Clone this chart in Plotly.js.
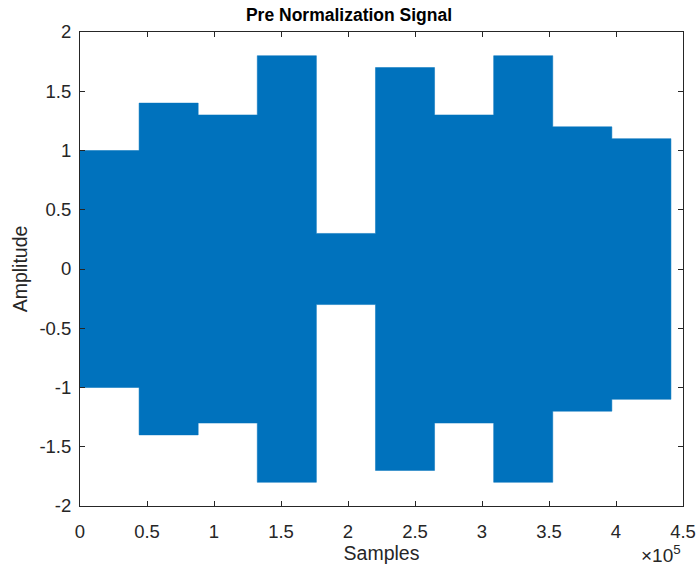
<!DOCTYPE html>
<html>
<head>
<meta charset="utf-8">
<script src="https://cdn.plot.ly/plotly-3.0.1.min.js"></script>
<style>html,body{margin:0;padding:0;background:#fff;}#chart{width:698px;height:569px;}</style>
</head>
<body>
<div id="chart"></div>
<script>
// Segment boundaries (samples) and peak amplitudes of each segment
const segmentStarts = [0, 44100, 88200, 132300, 176400, 220500, 264600, 308700, 352800, 396900];
const segmentEnds   = [44100, 88200, 132300, 176400, 220500, 264600, 308700, 352800, 396900, 441000];
const amplitudes    = [1.0, 1.4, 1.3, 1.8, 0.3, 1.7, 1.3, 1.8, 1.2, 1.1];
const xTickVals  = [0, 50000, 100000, 150000, 200000, 250000, 300000, 350000, 400000, 450000];
const xTickText  = ["0", "0.5", "1", "1.5", "2", "2.5", "3", "3.5", "4", "4.5"];
const yTickVals  = [-2, -1.5, -1, -0.5, 0, 0.5, 1, 1.5, 2];
const yTickText  = ["-2", "-1.5", "-1", "-0.5", "0", "0.5", "1", "1.5", "2"];

// Envelope of the signal: upper edge left-to-right, lower edge right-to-left
const ex = [], ey = [];
for (let i = 0; i < amplitudes.length; i++) {
  ex.push(segmentStarts[i], segmentEnds[i]);
  ey.push(amplitudes[i], amplitudes[i]);
}
for (let i = amplitudes.length - 1; i >= 0; i--) {
  ex.push(segmentEnds[i], segmentStarts[i]);
  ey.push(-amplitudes[i], -amplitudes[i]);
}

const trace = {
  x: ex, y: ey, type: 'scatter', mode: 'lines',
  fill: 'toself', fillcolor: '#0072BD',
  line: {color: '#0072BD', width: 0.5, shape: 'linear'},
  hoverinfo: 'skip', showlegend: false
};

const FONT = 'Liberation Sans, Arial, sans-serif';
const axisCommon = {
  showgrid: false, zeroline: false, showline: true, mirror: 'ticks',
  linecolor: '#262626', linewidth: 1, ticks: 'inside', ticklen: 5, tickwidth: 1,
  tickcolor: '#262626', tickfont: {family: FONT, size: 18.5, color: '#262626'}
};

const layout = {
  width: 698, height: 569,
  margin: {l: 80, r: 15, t: 32, b: 63},
  paper_bgcolor: '#ffffff', plot_bgcolor: '#ffffff',
  title: {text: '<b>Pre Normalization Signal</b>', x: 0.5, xanchor: 'center', y: 0.984, yanchor: 'top',
          font: {family: FONT, size: 17.5, color: '#000000'}},
  xaxis: Object.assign({}, axisCommon, {
    range: [0, 450000], tickvals: xTickVals, ticktext: xTickText, ticklabelstandoff: 9,
    title: {text: 'Samples', standoff: 3, font: {family: FONT, size: 19.5, color: '#262626'}}
  }),
  yaxis: Object.assign({}, axisCommon, {
    range: [-2, 2], tickvals: yTickVals, ticktext: yTickText, ticklabelstandoff: 4,
    title: {text: 'Amplitude', standoff: 6, font: {family: FONT, size: 19.5, color: '#262626'}}
  }),
  annotations: [{
    text: '×10<sup>5</sup>', xref: 'paper', yref: 'paper', x: 1.0, y: 0, xanchor: 'right', yanchor: 'top',
    yshift: -34, showarrow: false,
    font: {family: FONT, size: 19, color: '#262626'}
  }]
};

Plotly.newPlot('chart', [trace], layout, {displayModeBar: false, staticPlot: true});
</script>
</body>
</html>
